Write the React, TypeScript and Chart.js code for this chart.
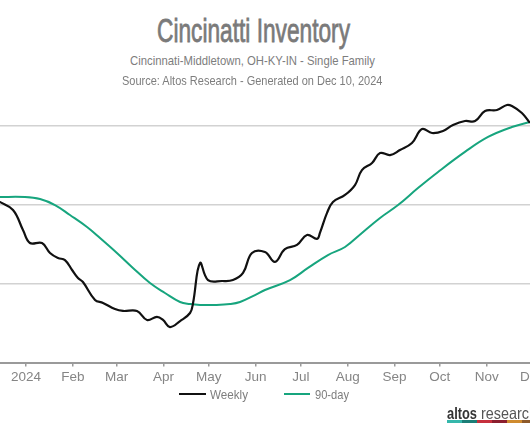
import React, { useEffect, useRef } from "react";
import { Chart, registerables } from "chart.js";
Chart.register(...registerables);

// Days counted from Jan 1, 2024
const weeklyDays = [-18, -8.6, -2.0, 2.6, 10.6, 15.9, 21.2, 25.8, 30.5, 34.4, 37.7, 45.7, 51.0, 58.9, 64.2, 73.5, 80.1, 86.7, 90.7, 95.3, 102.0, 108.6, 110.6, 115.2, 120.5, 129.8, 137.0, 143.7, 149.6, 158.2, 164.8, 171.4, 179.4, 186.0, 192.7, 194.6, 199.3, 203.2, 211.2, 217.8, 222.4, 229.1, 234.4, 241.0, 247.6, 255.5, 262.2, 268.8, 276.1, 282.7, 290.6, 297.3, 303.9, 311.8, 318.4, 321.7, 328.3, 333.6];
const weeklyValues = [2022, 1968, 1841, 1758, 1758, 1695, 1663, 1650, 1587, 1536, 1511, 1397, 1378, 1339, 1327, 1327, 1270, 1289, 1270, 1225, 1263, 1314, 1378, 1631, 1523, 1517, 1523, 1568, 1695, 1701, 1638, 1720, 1746, 1809, 1784, 1822, 1949, 2018, 2063, 2126, 2221, 2266, 2329, 2316, 2348, 2393, 2481, 2456, 2469, 2507, 2532, 2532, 2596, 2602, 2634, 2627, 2583, 2520];

const ninetyDays = [-18, -0.7, 9.3, 19.2, 29.1, 40.4, 49.0, 60.2, 70.8, 82.1, 92.0, 102.0, 108.6, 115.2, 125.1, 135.1, 141.7, 151.6, 158.2, 174.8, 186.7, 199.9, 211.2, 222.4, 234.4, 246.3, 259.5, 272.8, 290.6, 305.9, 321.7, 333.6];
const ninetyValues = [2050, 2050, 2037, 1999, 1936, 1860, 1790, 1695, 1600, 1504, 1441, 1384, 1371, 1365, 1365, 1371, 1384, 1428, 1460, 1523, 1600, 1682, 1733, 1822, 1917, 1999, 2107, 2209, 2336, 2431, 2494, 2526];

const monthTicks = [0, 31, 60, 91, 121, 152, 182, 213, 244, 274, 305, 335];
const monthLabels = ["2024", "Feb", "Mar", "Apr", "May", "Jun", "Jul", "Aug", "Sep", "Oct", "Nov", "Dec"];
const gridValues = [1500, 2000, 2500];

const FAMILY = "'Liberation Sans Narrow', 'Liberation Sans', Arial, sans-serif";
const GREEN = "#17a57e";
const GRAY = "#7d7d7d";

const XMIN = -43.69;
const XMAX = 366.77;

let mctx: CanvasRenderingContext2D | null = null;
function measure(text: string, font: string) {
  if (!mctx) mctx = document.createElement("canvas").getContext("2d");
  mctx!.font = font;
  return mctx!.measureText(text).width;
}

function Txt(props: { text: string; x: number; w: number; baseline: number; fs: number; weight?: number; color: string; stroke?: number }) {
  const { text, x, w, baseline, fs, color } = props;
  const weight = props.weight ?? 400;
  const m = measure(text, `${weight} ${fs}px ${FAMILY}`);
  const sx = w / m;
  const style: any = {
    position: "absolute",
    left: x,
    top: baseline - 0.8465 * fs,
    fontSize: fs,
    lineHeight: `${fs}px`,
    fontFamily: FAMILY,
    fontWeight: weight,
    color,
    whiteSpace: "nowrap",
    transform: `scaleX(${sx})`,
    transformOrigin: "0 0",
  };
  if (props.stroke) style.WebkitTextStroke = `${props.stroke}px ${color}`;
  return <div style={style}>{text}</div>;
}

const logoColors = ["#35b7ab", "#1b7e77", "#c6303d", "#8b1e2e", "#cf8b2f", "#8e5a2a"];

export default function App() {
  const ref = useRef<HTMLCanvasElement | null>(null);
  useEffect(() => {
    if (!ref.current) return;
    const chart = new Chart(ref.current, {
      type: "line",
      data: {
        datasets: [
          {
            label: "Weekly",
            data: weeklyDays.map((d, i) => ({ x: d, y: weeklyValues[i] })),
            borderColor: "#111111",
            borderWidth: 2.2,
            pointRadius: 0,
            tension: 0.4,
            fill: false,
          },
          {
            label: "90-day",
            data: ninetyDays.map((d, i) => ({ x: d, y: ninetyValues[i] })),
            borderColor: GREEN,
            borderWidth: 2,
            pointRadius: 0,
            tension: 0.4,
            fill: false,
          },
        ],
      },
      options: {
        animation: false,
        responsive: false,
        maintainAspectRatio: false,
        layout: { padding: { top: 8.8, bottom: 11.3, left: 0, right: 0 } },
        plugins: { legend: { display: false }, tooltip: { enabled: false }, title: { display: false } },
        scales: {
          x: {
            type: "linear",
            min: XMIN,
            max: XMAX,
            afterBuildTicks: (s: any) => {
              s.ticks = monthTicks.map((v) => ({ value: v }));
            },
            ticks: {
              callback: (_v: any, i: number) => monthLabels[i] ?? "",
              font: { family: FAMILY, size: 13.5 },
              color: "#858585",
              padding: 3,
              maxRotation: 0,
              autoSkip: false,
            },
            grid: { drawOnChartArea: false, drawTicks: true, tickLength: 4, color: "#9a9a9a", lineWidth: 1.5 },
            border: { display: true, color: "#9a9a9a", width: 2 },
          },
          y: {
            min: 1000,
            max: 2800,
            afterBuildTicks: (s: any) => {
              s.ticks = gridValues.map((v) => ({ value: v }));
            },
            ticks: { display: false },
            grid: { color: "#d2d2d2", lineWidth: 1.5, drawTicks: false },
            border: { display: false },
          },
        },
      },
    });
    return () => chart.destroy();
  }, []);

  return (
    <div style={{ position: "fixed", left: 0, top: 0, width: 530, height: 442, overflow: "hidden", background: "#fff" }}>
      <canvas ref={ref} width={620} height={330} style={{ position: "absolute", left: -40, top: 70, width: 620, height: 330 }} />
      <Txt text="Cincinatti Inventory" x={157} w={193} baseline={42.3} fs={33.5} stroke={0.8} color="#7a7a7a" />
      <Txt text="Cincinnati-Middletown, OH-KY-IN - Single Family" x={130} w={245} baseline={65} fs={13.5} color={GRAY} />
      <Txt text="Source: Altos Research - Generated on Dec 10, 2024" x={122} w={261} baseline={85} fs={13.5} color={GRAY} />
      {/* legend */}
      <div style={{ position: "absolute", left: 179, top: 393, width: 27, height: 2, background: "#111" }} />
      <Txt text="Weekly" x={210} w={38} baseline={399} fs={13.5} color={GRAY} />
      <div style={{ position: "absolute", left: 284, top: 393, width: 26, height: 2, background: GREEN }} />
      <Txt text="90-day" x={315} w={34} baseline={399} fs={13.5} color={GRAY} />
      {/* logo */}
      <Txt text="altos" x={446.5} w={30} baseline={419} fs={16.5} weight={700} color="#333333" />
      <Txt text="research" x={480.5} w={56} baseline={419} fs={16.5} color="#555555" />
      {logoColors.map((c, i) => (
        <div key={i} style={{ position: "absolute", left: 446.5 + i * 15, top: 420, width: 15, height: 3, background: c }} />
      ))}
    </div>
  );
}
